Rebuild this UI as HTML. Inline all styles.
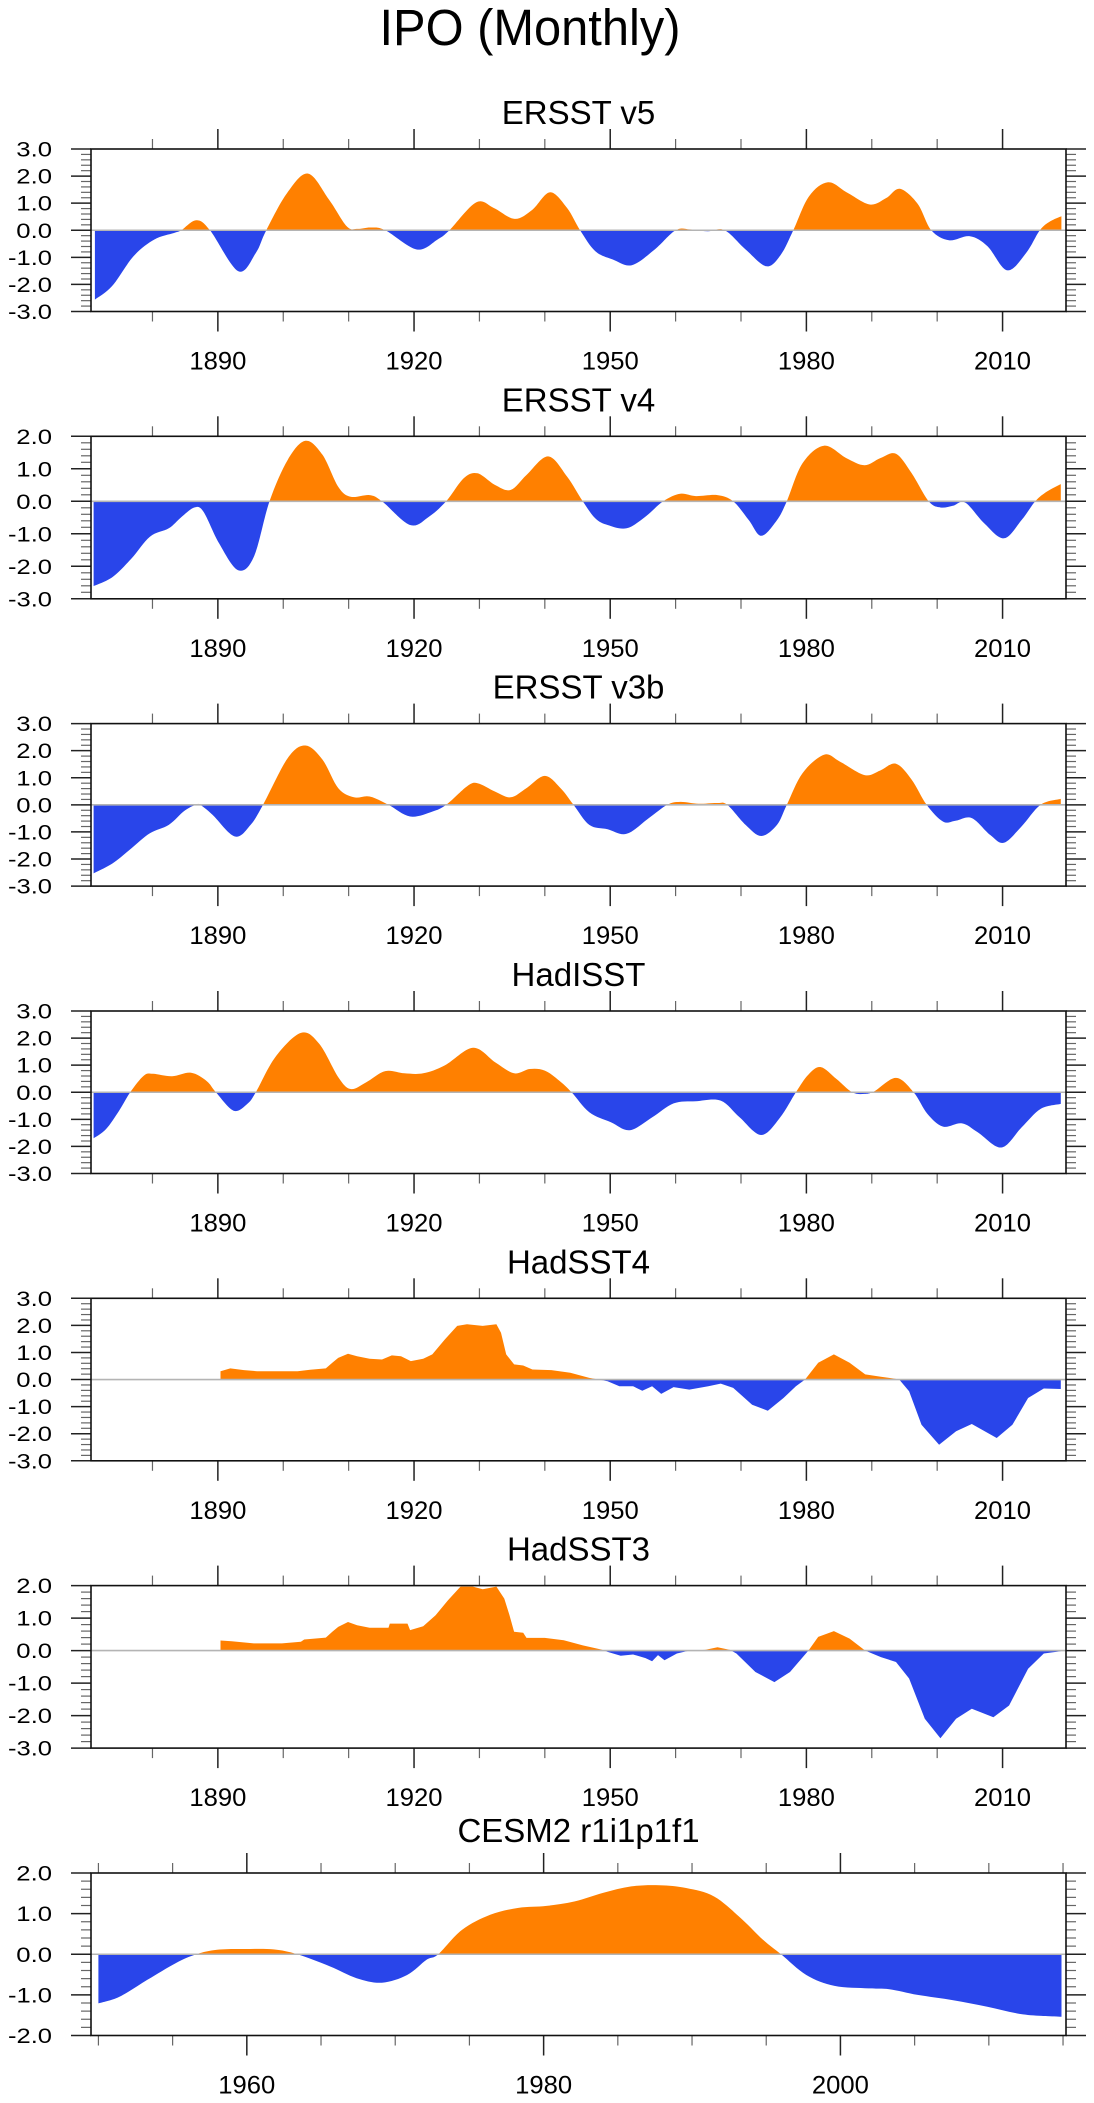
<!DOCTYPE html>
<html><head><meta charset="utf-8"><title>IPO (Monthly)</title>
<style>
html,body{margin:0;padding:0;background:#fff;}
svg{display:block;font-family:"Liberation Sans",Arial,sans-serif;}
</style></head>
<body>
<svg id="fig" width="1094" height="2103" viewBox="0 0 1094 2103" xmlns="http://www.w3.org/2000/svg">
<text x="530" y="45" font-size="51" text-anchor="middle" textLength="301" lengthAdjust="spacingAndGlyphs">IPO (Monthly)</text>
</svg>
<script>
// ---- data (years, values) per panel ----
const v5Years=[1871.2,1873.8,1877.1,1880.3,1883.3,1884.4,1886.7,1888.8,1893.1,1895.8,1897.4,1900.6,1903.8,1907.0,1909.7,1911.3,1913.4,1915.6,1920.4,1923.6,1925.4,1929.5,1932.2,1935.4,1938.1,1940.8,1943.4,1945.4,1947.7,1950.4,1953.3,1956.8,1960.0,1962.2,1964.9,1967.5,1970.7,1973.9,1976.1,1978.0,1980.4,1983.3,1986.3,1989.7,1992.2,1994.3,1997.0,1999.1,2001.8,2005.0,2007.7,2010.7,2013.6,2015.7,2017.3,2019.0];
const v5Vals=[-2.56,-2.07,-0.96,-0.34,-0.10,0,0.37,0,-1.51,-0.84,0,1.38,2.09,1.13,0.15,0.05,0.10,0,-0.71,-0.34,0,1.03,0.82,0.42,0.76,1.40,0.82,0,-0.77,-1.08,-1.29,-0.71,0,0.03,-0.04,0,-0.71,-1.33,-0.90,0,1.25,1.77,1.38,0.95,1.19,1.53,0.98,0,-0.37,-0.22,-0.59,-1.48,-0.84,0,0.33,0.52];

const v4Years=[1871.0,1873.9,1876.8,1879.6,1882.5,1884.4,1886.4,1887.8,1890.2,1893.1,1895.5,1897.9,1900.7,1903.4,1906.0,1908.4,1910.3,1913.2,1915.1,1919.4,1922.3,1924.9,1927.6,1929.7,1932.4,1934.8,1937.2,1940.5,1943.4,1945.8,1947.7,1949.6,1952.5,1955.4,1958.1,1960.7,1963.1,1966.4,1968.8,1971.2,1973.1,1975.5,1977.0,1979.4,1982.7,1986.1,1988.9,1991.3,1993.7,1996.1,1998.7,2000.5,2002.4,2004.3,2007.2,2010.2,2012.9,2015.0,2016.8,2018.9];
const v4Vals=[-2.61,-2.33,-1.76,-1.09,-0.83,-0.49,-0.19,-0.32,-1.30,-2.12,-1.71,0,1.28,1.86,1.43,0.45,0.14,0.19,0,-0.73,-0.47,0,0.71,0.86,0.50,0.35,0.81,1.38,0.76,0,-0.52,-0.73,-0.83,-0.47,0,0.23,0.16,0.19,0,-0.58,-1.06,-0.58,0,1.17,1.71,1.33,1.11,1.33,1.46,0.86,0,-0.19,-0.14,-0.04,-0.68,-1.14,-0.58,0,0.30,0.53];

const v3bYears=[1871.0,1873.9,1876.8,1879.6,1882.5,1884.9,1886.6,1887.3,1889.2,1892.6,1895.0,1896.9,1900.7,1903.4,1906.0,1908.4,1910.8,1913.2,1916.1,1919.4,1922.8,1924.9,1928.1,1929.7,1932.4,1934.8,1937.2,1940.0,1942.4,1944.4,1946.8,1949.6,1952.5,1955.9,1958.7,1960.7,1963.5,1966.4,1967.9,1970.7,1973.1,1975.5,1977.0,1979.4,1982.7,1985.1,1988.9,1991.3,1993.7,1996.1,1998.4,2000.9,2002.9,2005.3,2008.1,2010.2,2012.9,2015.8,2018.9];
const v3bVals=[-2.53,-2.16,-1.60,-1.05,-0.74,-0.22,0,0,-0.37,-1.17,-0.74,0,1.73,2.19,1.67,0.62,0.28,0.31,0,-0.43,-0.25,0,0.68,0.80,0.49,0.28,0.62,1.07,0.62,0,-0.74,-0.90,-1.07,-0.49,0,0.11,0.04,0.07,0,-0.74,-1.15,-0.74,0,1.17,1.85,1.60,1.10,1.27,1.52,0.93,0,-0.62,-0.58,-0.49,-1.11,-1.40,-0.80,0,0.22];

const hadiYears=[1871.0,1872.9,1874.9,1876.6,1878.7,1880.1,1883.0,1885.9,1888.3,1889.7,1892.4,1894.5,1895.8,1898.8,1902.7,1905.5,1908.4,1910.3,1912.7,1915.6,1918.5,1921.4,1924.7,1929.0,1932.4,1935.3,1937.7,1940.0,1942.2,1944.1,1946.8,1950.1,1953.0,1956.4,1959.7,1963.1,1966.9,1969.8,1973.1,1976.0,1978.4,1980.3,1982.2,1984.6,1987.0,1988.9,1990.4,1993.7,1996.4,1998.5,2000.9,2003.8,2006.2,2009.8,2012.9,2015.8,2018.9];
const hadiVals=[-1.70,-1.36,-0.68,0,0.62,0.68,0.59,0.72,0.41,0,-0.68,-0.43,0,1.30,2.19,1.79,0.56,0.12,0.37,0.78,0.70,0.70,0.99,1.64,1.11,0.70,0.86,0.80,0.43,0,-0.74,-1.11,-1.40,-0.93,-0.41,-0.33,-0.31,-0.93,-1.58,-0.93,0,0.65,0.93,0.49,0,-0.06,0.04,0.53,0,-0.80,-1.27,-1.15,-1.48,-2.04,-1.30,-0.62,-0.43];

const h4Years=[1890.4,1891.9,1894.0,1896.0,1898.8,1902.2,1904.1,1906.5,1907.5,1908.4,1909.9,1911.3,1913.2,1915.1,1916.6,1918.0,1919.5,1921.4,1922.8,1924.7,1926.6,1928.1,1930.5,1932.6,1933.3,1934.1,1935.3,1936.7,1938.1,1941.0,1943.9,1946.8,1948.2,1949.6,1951.4,1953.5,1954.9,1956.4,1957.8,1959.7,1962.1,1965.0,1966.9,1968.8,1971.7,1974.1,1976.5,1978.4,1979.8,1981.8,1984.2,1986.6,1989.0,1991.4,1993.3,1994.2,1995.7,1997.6,2000.3,2002.9,2005.3,2009.1,2011.5,2013.9,2016.3,2018.9];
const h4Vals=[0.31,0.41,0.35,0.31,0.31,0.31,0.36,0.41,0.62,0.80,0.95,0.86,0.77,0.74,0.89,0.86,0.68,0.77,0.93,1.48,1.98,2.04,1.98,2.04,1.73,0.93,0.56,0.52,0.37,0.35,0.25,0.06,0,-0.06,-0.25,-0.25,-0.41,-0.25,-0.53,-0.28,-0.37,-0.25,-0.15,-0.31,-0.93,-1.15,-0.68,-0.25,0,0.62,0.93,0.62,0.19,0.10,0.04,0,-0.43,-1.67,-2.41,-1.91,-1.64,-2.16,-1.67,-0.68,-0.33,-0.35];

const h3Years=[1890.4,1892.1,1895.5,1899.8,1902.7,1903.2,1906.5,1907.5,1908.4,1909.9,1911.3,1913.2,1916.1,1916.3,1919.0,1919.4,1921.4,1923.3,1925.2,1927.1,1929.0,1930.5,1932.6,1933.8,1934.6,1935.3,1936.7,1937.2,1940.0,1942.9,1945.8,1948.7,1949.6,1951.6,1953.5,1955.4,1956.4,1957.3,1958.3,1960.2,1962.1,1964.5,1966.4,1968.3,1969.3,1972.2,1975.1,1977.5,1980.3,1981.8,1984.2,1986.6,1989.0,1991.4,1993.7,1995.7,1998.1,2000.5,2002.9,2005.3,2008.6,2011.0,2013.9,2016.3,2018.9];
const h3Vals=[0.31,0.29,0.22,0.22,0.27,0.34,0.40,0.58,0.73,0.88,0.78,0.70,0.70,0.83,0.83,0.63,0.75,1.09,1.55,1.97,1.97,1.89,1.97,1.60,1.09,0.58,0.55,0.39,0.39,0.32,0.16,0.03,-0.04,-0.16,-0.12,-0.23,-0.33,-0.14,-0.30,-0.09,0,0.02,0.10,0.02,-0.09,-0.66,-0.97,-0.66,0,0.42,0.60,0.37,0,-0.20,-0.35,-0.86,-2.10,-2.70,-2.10,-1.79,-2.05,-1.69,-0.56,-0.09,-0.02];

const cesmYears=[1950.0,1951.4,1953.3,1955.2,1956.6,1958.0,1959.9,1961.8,1963.4,1965.6,1967.4,1969.1,1970.8,1972.1,1972.9,1974.5,1976.4,1978.3,1980.2,1982.1,1984.0,1985.9,1987.8,1989.6,1991.5,1993.4,1994.8,1996.0,1997.7,1999.6,2001.9,2003.3,2005.2,2007.6,2009.9,2012.3,2014.9];
const cesmVals=[-1.21,-1.05,-0.63,-0.22,0,0.11,0.13,0.12,0,-0.30,-0.59,-0.70,-0.51,-0.14,0,0.60,0.97,1.14,1.19,1.30,1.51,1.67,1.70,1.63,1.42,0.85,0.35,0,-0.51,-0.78,-0.84,-0.86,-1.00,-1.13,-1.29,-1.48,-1.54];

const longXLabels=["1890","1920","1950","1980","2010"];
const cesmXLabels=["1960","1980","2000"];

const panels=[
 {name:"ersst-v5",title:"ERSST v5",top:149,ymin:-3,ymax:3,years:v5Years,vals:v5Vals,smooth:true,xmin:1870.6,xmax:2019.7,minorStep:10,minorStart:1880,minorEnd:2010,labels:longXLabels,tOff:25},
 {name:"ersst-v4",title:"ERSST v4",top:436.3,ymin:-3,ymax:2,years:v4Years,vals:v4Vals,smooth:true,xmin:1870.6,xmax:2019.7,minorStep:10,minorStart:1880,minorEnd:2010,labels:longXLabels,tOff:25},
 {name:"ersst-v3b",title:"ERSST v3b",top:723.6,ymin:-3,ymax:3,years:v3bYears,vals:v3bVals,smooth:true,xmin:1870.6,xmax:2019.7,minorStep:10,minorStart:1880,minorEnd:2010,labels:longXLabels,tOff:25},
 {name:"hadisst",title:"HadISST",top:1011,ymin:-3,ymax:3,years:hadiYears,vals:hadiVals,smooth:true,xmin:1870.6,xmax:2019.7,minorStep:10,minorStart:1880,minorEnd:2010,labels:longXLabels,tOff:25},
 {name:"hadsst4",title:"HadSST4",top:1298.3,ymin:-3,ymax:3,years:h4Years,vals:h4Vals,smooth:false,xmin:1870.6,xmax:2019.7,minorStep:10,minorStart:1880,minorEnd:2010,labels:longXLabels,tOff:25},
 {name:"hadsst3",title:"HadSST3",top:1585.6,ymin:-3,ymax:2,years:h3Years,vals:h3Vals,smooth:false,xmin:1870.6,xmax:2019.7,minorStep:10,minorStart:1880,minorEnd:2010,labels:longXLabels,tOff:25},
 {name:"cesm2",title:"CESM2 r1i1p1f1",top:1873,ymin:-2,ymax:2,years:cesmYears,vals:cesmVals,smooth:true,xmin:1949.5,xmax:2015.2,minorStep:5,minorStart:1950,minorEnd:2015,labels:cesmXLabels,tOff:31}
];

const NS="http://www.w3.org/2000/svg";
const svg=document.getElementById('fig');
const L=91,R=1066,H=162.5;
function el(tag,attrs,parent){const e=document.createElementNS(NS,tag);for(const k in attrs)e.setAttribute(k,attrs[k]);(parent||svg).appendChild(e);return e;}

panels.forEach((p,pi)=>{
  const g=el('g',{});
  
  
  const T=p.top,B=T+H;
  const xs=y=>L+(y-p.xmin)/(p.xmax-p.xmin)*(R-L);
  const ys=v=>B-(v-p.ymin)/(p.ymax-p.ymin)*H;
  const y0=ys(0);
  // title
  const t=el('text',{x:578.5,y:T-p.tOff,'font-size':33,'text-anchor':'middle'},g);
  t.textContent=p.title;
  
  
  // series path
  const pts=p.years.map((yr,i)=>[xs(yr),ys(p.vals[i])]);
  let d='M'+pts[0][0].toFixed(1)+','+y0.toFixed(1)+' L'+pts[0][0].toFixed(1)+','+pts[0][1].toFixed(1);
  for(let i=0;i<pts.length-1;i++){
    const p1=pts[i],p2=pts[i+1];
    if(p.smooth){
      const p0=pts[Math.max(0,i-1)],p3=pts[Math.min(pts.length-1,i+2)];
      const c1=[p1[0]+(p2[0]-p0[0])/6,p1[1]+(p2[1]-p0[1])/6];
      const c2=[p2[0]-(p3[0]-p1[0])/6,p2[1]-(p3[1]-p1[1])/6];
      d+=' C'+c1[0].toFixed(1)+','+c1[1].toFixed(1)+' '+c2[0].toFixed(1)+','+c2[1].toFixed(1)+' '+p2[0].toFixed(1)+','+p2[1].toFixed(1);
    } else d+=' L'+p2[0].toFixed(1)+','+p2[1].toFixed(1);
  }
  const last=pts[pts.length-1];
  d+=' L'+last[0].toFixed(1)+','+y0.toFixed(1)+' Z';
  const cpA=el('clipPath',{id:'ca'+pi},g); el('rect',{x:L,y:T,width:R-L,height:y0-T},cpA);
  const cpB=el('clipPath',{id:'cb'+pi},g); el('rect',{x:L,y:y0,width:R-L,height:B-y0},cpB);
  const pos=el('path',{d:d,fill:'#ff8000','clip-path':'url(#ca'+pi+')'},g);
  
  
  const neg=el('path',{d:d,fill:'#2945ea','clip-path':'url(#cb'+pi+')'},g);
  
  
  // zero line
  const zl=el('line',{x1:L,x2:R,y1:y0,y2:y0,stroke:'#b4b4b4','stroke-width':1.6},g);
  
  
  // y ticks
  for(let k=0;k<=Math.round((p.ymax-p.ymin)*5);k++){
    const v=p.ymin+k*0.2, yy=ys(v), major=(k%5===0), len=major?20:10;
    el('line',{x1:L-len,x2:L,y1:yy,y2:yy,stroke:major?'#222':'#666','stroke-width':major?1.5:1.2},g);
    el('line',{x1:R,x2:R+len,y1:yy,y2:yy,stroke:major?'#222':'#666','stroke-width':major?1.5:1.2},g);
    if(major){
      const lab=el('text',{x:52,y:yy+7.5,'font-size':21,'text-anchor':'end',textLength:(v<-0.01?44:35.7),lengthAdjust:'spacingAndGlyphs'},g);
      lab.textContent=(Math.abs(v)<1e-9?0:v).toFixed(1);
      
      
    }
  }
  // x ticks
  for(let yr=p.minorStart;yr<=p.minorEnd+0.01;yr+=p.minorStep){
    const xx=xs(yr), major=p.labels.indexOf(String(yr))>=0, len=major?20:10;
    el('line',{x1:xx,x2:xx,y1:T-len,y2:T,stroke:major?'#222':'#666','stroke-width':major?1.5:1.2},g);
    el('line',{x1:xx,x2:xx,y1:B,y2:B+len,stroke:major?'#222':'#666','stroke-width':major?1.5:1.2},g);
  }
  p.labels.forEach(s=>{
    const lab=el('text',{x:xs(+s),y:B+58,'font-size':25,'text-anchor':'middle',textLength:57,lengthAdjust:'spacingAndGlyphs'},g);
    lab.textContent=s;
    
    
  });
  // frame
  const fr=el('rect',{x:L,y:T,width:R-L,height:H,fill:'none',stroke:'#111','stroke-width':1.6},g);
  
  
});
</script>
</body></html>
